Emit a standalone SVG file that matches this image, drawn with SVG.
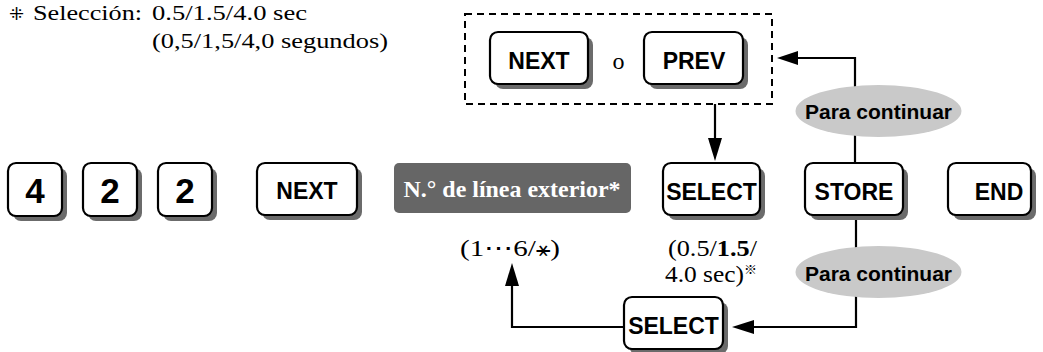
<svg xmlns="http://www.w3.org/2000/svg" width="1043" height="352" viewBox="0 0 1043 352">
<style>
.key rect.sh{fill:#6b6b6b;}
.key rect.bd{fill:#fff;stroke:#000;stroke-width:2.2;}
.kt{font-family:"Liberation Sans",Arial,sans-serif;font-weight:bold;font-size:23px;fill:#000;text-anchor:middle;}
.dg{font-size:35px;}
.serif{font-family:"Liberation Serif","Times New Roman",serif;font-size:24px;fill:#000;}
.note{font-size:22px;}
.pc{font-family:"Liberation Sans",Arial,sans-serif;font-weight:bold;font-size:21px;fill:#000;text-anchor:middle;}
.ln{fill:none;stroke:#000;stroke-width:2.2;}
.ah{fill:#000;}
</style>
<rect width="1043" height="352" fill="#fff"/>

<g id="note">
<text x="9" y="20" style="font-family:'DejaVu Sans','Noto Sans CJK JP',sans-serif;font-size:18px">⁜</text>
<text class="serif note" x="33" y="20" textLength="109" lengthAdjust="spacingAndGlyphs">Selección:</text>
<text class="serif note" x="152" y="20" textLength="155" lengthAdjust="spacingAndGlyphs">0.5/1.5/4.0 sec</text>
<text class="serif note" x="152" y="48" textLength="236" lengthAdjust="spacingAndGlyphs">(0,5/1,5/4,0 segundos)</text>
</g>

<g id="group-box">
<rect x="465" y="14" width="307" height="90" fill="none" stroke="#000" stroke-width="2" stroke-dasharray="7 5"/>
</g>

<g id="key-next-top" class="key">
<rect class="sh" x="495" y="37" width="98" height="52" rx="8"/>
<rect class="bd" x="490" y="32" width="98" height="52" rx="8"/>
<text class="kt" x="539" y="69">NEXT</text>
</g>
<g id="label-o">
<text class="serif" x="618.5" y="69" text-anchor="middle">o</text>
</g>
<g id="key-prev" class="key">
<rect class="sh" x="649" y="37" width="99" height="52" rx="8"/>
<rect class="bd" x="644" y="32" width="99" height="52" rx="8"/>
<text class="kt" x="694" y="69">PREV</text>
</g>

<g id="connectors">
<path class="ln" d="M715,104 V140"/>
<polygon class="ah" points="708,138 722,138 715,161"/>
<path class="ln" d="M855,163 V58 H796"/>
<polygon class="ah" points="798,51 798,65 777,58"/>
<path class="ln" d="M856,215 V327 H752"/>
<polygon class="ah" points="754,320 754,334 732,327"/>
<path class="ln" d="M624,327 H512 V284"/>
<polygon class="ah" points="505,286 519,286 512,263"/>
</g>

<g id="cont-top">
<ellipse cx="878.5" cy="111" rx="83" ry="26" fill="#c9c9c9"/>
<text class="pc" x="878.5" y="119">Para continuar</text>
</g>
<g id="cont-bottom">
<ellipse cx="878.5" cy="272" rx="83" ry="26" fill="#c9c9c9"/>
<text class="pc" x="878.5" y="281">Para continuar</text>
</g>

<g id="key-4" class="key">
<rect class="sh" x="13" y="168" width="54" height="53" rx="8"/>
<rect class="bd" x="8" y="163" width="54" height="53" rx="8"/>
<text class="kt dg" x="35" y="203">4</text>
</g>
<g id="key-2a" class="key">
<rect class="sh" x="88" y="168" width="54" height="53" rx="8"/>
<rect class="bd" x="83" y="163" width="54" height="53" rx="8"/>
<text class="kt dg" x="110" y="203">2</text>
</g>
<g id="key-2b" class="key">
<rect class="sh" x="163" y="168" width="54" height="53" rx="8"/>
<rect class="bd" x="158" y="163" width="54" height="53" rx="8"/>
<text class="kt dg" x="185" y="203">2</text>
</g>
<g id="key-next" class="key">
<rect class="sh" x="262" y="168" width="100" height="52" rx="8"/>
<rect class="bd" x="257" y="163" width="100" height="52" rx="8"/>
<text class="kt" x="307" y="199">NEXT</text>
</g>
<g id="line-number">
<rect x="394" y="163" width="237" height="50" rx="5" fill="#666"/>
<text x="512" y="197" text-anchor="middle" textLength="217" lengthAdjust="spacingAndGlyphs" style="font-family:'Liberation Serif','Times New Roman',serif;font-weight:bold;font-size:24px;fill:#fff">N.° de línea exterior*</text>
<text class="serif" x="510" y="256" text-anchor="middle" textLength="100" lengthAdjust="spacingAndGlyphs">(1⋯6/<tspan style="font-family:'DejaVu Sans',sans-serif;font-size:20px">⚹</tspan>)</text>
</g>
<g id="key-select" class="key">
<rect class="sh" x="668" y="168" width="97" height="52" rx="8"/>
<rect class="bd" x="663" y="163" width="97" height="52" rx="8"/>
<text class="kt" x="711.5" y="200">SELECT</text>
<text class="serif" x="668" y="256" textLength="89" lengthAdjust="spacingAndGlyphs">(0.5/<tspan font-weight="bold">1.5</tspan>/</text>
<text class="serif" x="665" y="282" textLength="79" lengthAdjust="spacingAndGlyphs">4.0 sec)</text>
<text x="744" y="274" style="font-family:'Noto Sans CJK JP',sans-serif;font-size:13px">※</text>
</g>
<g id="key-store" class="key">
<rect class="sh" x="810" y="168" width="98" height="52" rx="8"/>
<rect class="bd" x="805" y="163" width="98" height="52" rx="8"/>
<text class="kt" x="854" y="200">STORE</text>
</g>
<g id="key-end" class="key">
<rect class="sh" x="953" y="168" width="83" height="52" rx="8"/>
<rect class="bd" x="948" y="163" width="83" height="52" rx="8"/>
<text class="kt" x="999" y="200">END</text>
</g>
<g id="key-select-bottom" class="key">
<rect class="sh" x="629" y="302" width="99" height="52" rx="8"/>
<rect class="bd" x="624" y="297" width="99" height="52" rx="8"/>
<text class="kt" x="673.5" y="334">SELECT</text>
</g>
</svg>
